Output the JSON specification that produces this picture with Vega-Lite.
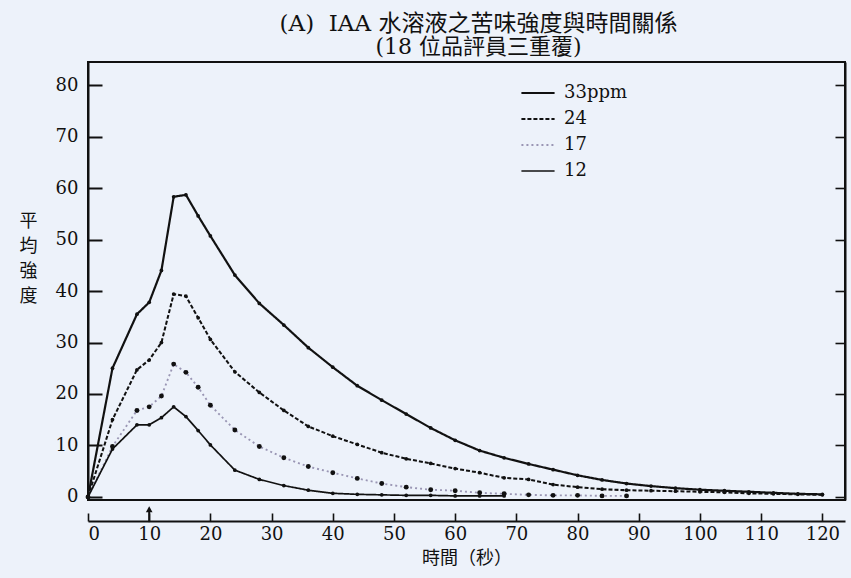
{
  "$schema": "https://vega.github.io/schema/vega-lite/v6.json",
  "width": 757,
  "height": 438,
  "autosize": {"type": "none"},
  "padding": {"left": 88, "top": 62, "right": 6, "bottom": 78},
  "background": "#edf2fa",
  "config": {
    "view": {"stroke": "#111111", "strokeWidth": 2},
    "axis": {"grid": false, "domainColor": "#111111", "tickColor": "#111111", "labelColor": "#111111", "titleColor": "#111111", "domainWidth": 2, "tickWidth": 1.6},
    "legend": {"symbolType": "stroke", "symbolSize": 1100, "symbolStrokeWidth": 2, "labelFont": "DejaVu Serif", "labelFontSize": 18, "labelColor": "#111111", "labelOffset": 8, "rowPadding": 8, "clipHeight": 18}
  },
  "title": {
    "text": "(A)\u00a0\u00a0IAA 水溶液之苦味強度與時間關係",
    "subtitle": "(18 位品評員三重覆)",
    "anchor": "middle",
    "dx": 12,
    "font": "'DejaVu Serif', 'Noto Sans CJK TC'",
    "fontSize": 23,
    "fontWeight": "normal",
    "color": "#111111",
    "subtitleFont": "'DejaVu Serif', 'Noto Sans CJK TC'",
    "subtitleFontSize": 22,
    "subtitleColor": "#111111",
    "subtitlePadding": 1,
    "offset": 4
  },
  "datasets": {
    "curves": [
      {"t": 0, "v": 0, "s": "33ppm"}, {"t": 4, "v": 25, "s": "33ppm"}, {"t": 8, "v": 35.5, "s": "33ppm"}, {"t": 10, "v": 37.8, "s": "33ppm"}, {"t": 12, "v": 44, "s": "33ppm"}, {"t": 14, "v": 58.3, "s": "33ppm"}, {"t": 16, "v": 58.7, "s": "33ppm"}, {"t": 18, "v": 54.6, "s": "33ppm"}, {"t": 20, "v": 50.7, "s": "33ppm"}, {"t": 24, "v": 43.1, "s": "33ppm"}, {"t": 28, "v": 37.6, "s": "33ppm"}, {"t": 32, "v": 33.4, "s": "33ppm"}, {"t": 36, "v": 29, "s": "33ppm"}, {"t": 40, "v": 25.2, "s": "33ppm"}, {"t": 44, "v": 21.6, "s": "33ppm"}, {"t": 48, "v": 18.8, "s": "33ppm"}, {"t": 52, "v": 16.1, "s": "33ppm"}, {"t": 56, "v": 13.4, "s": "33ppm"}, {"t": 60, "v": 11, "s": "33ppm"}, {"t": 64, "v": 9, "s": "33ppm"}, {"t": 68, "v": 7.6, "s": "33ppm"}, {"t": 72, "v": 6.4, "s": "33ppm"}, {"t": 76, "v": 5.3, "s": "33ppm"}, {"t": 80, "v": 4.2, "s": "33ppm"}, {"t": 84, "v": 3.3, "s": "33ppm"}, {"t": 88, "v": 2.6, "s": "33ppm"}, {"t": 92, "v": 2.1, "s": "33ppm"}, {"t": 96, "v": 1.7, "s": "33ppm"}, {"t": 100, "v": 1.4, "s": "33ppm"}, {"t": 104, "v": 1.2, "s": "33ppm"}, {"t": 108, "v": 1, "s": "33ppm"}, {"t": 112, "v": 0.8, "s": "33ppm"}, {"t": 116, "v": 0.6, "s": "33ppm"}, {"t": 120, "v": 0.5, "s": "33ppm"},
      {"t": 0, "v": 0, "s": "24"}, {"t": 4, "v": 15, "s": "24"}, {"t": 8, "v": 24.7, "s": "24"}, {"t": 10, "v": 26.6, "s": "24"}, {"t": 12, "v": 30, "s": "24"}, {"t": 14, "v": 39.4, "s": "24"}, {"t": 16, "v": 39, "s": "24"}, {"t": 18, "v": 34.8, "s": "24"}, {"t": 20, "v": 30.6, "s": "24"}, {"t": 24, "v": 24.3, "s": "24"}, {"t": 28, "v": 20.3, "s": "24"}, {"t": 32, "v": 16.8, "s": "24"}, {"t": 36, "v": 13.7, "s": "24"}, {"t": 40, "v": 11.8, "s": "24"}, {"t": 44, "v": 10.2, "s": "24"}, {"t": 48, "v": 8.6, "s": "24"}, {"t": 52, "v": 7.4, "s": "24"}, {"t": 56, "v": 6.5, "s": "24"}, {"t": 60, "v": 5.5, "s": "24"}, {"t": 64, "v": 4.7, "s": "24"}, {"t": 68, "v": 3.7, "s": "24"}, {"t": 72, "v": 3.4, "s": "24"}, {"t": 76, "v": 2.4, "s": "24"}, {"t": 80, "v": 1.9, "s": "24"}, {"t": 84, "v": 1.5, "s": "24"}, {"t": 88, "v": 1.3, "s": "24"}, {"t": 92, "v": 1.2, "s": "24"}, {"t": 96, "v": 1.1, "s": "24"}, {"t": 100, "v": 1, "s": "24"}, {"t": 104, "v": 0.9, "s": "24"}, {"t": 108, "v": 0.7, "s": "24"}, {"t": 112, "v": 0.6, "s": "24"}, {"t": 116, "v": 0.5, "s": "24"}, {"t": 120, "v": 0.4, "s": "24"},
      {"t": 0, "v": 0, "s": "17"}, {"t": 4, "v": 9.8, "s": "17"}, {"t": 8, "v": 16.8, "s": "17"}, {"t": 10, "v": 17.5, "s": "17"}, {"t": 12, "v": 19.6, "s": "17"}, {"t": 14, "v": 25.8, "s": "17"}, {"t": 16, "v": 24.2, "s": "17"}, {"t": 18, "v": 21.3, "s": "17"}, {"t": 20, "v": 17.8, "s": "17"}, {"t": 24, "v": 13, "s": "17"}, {"t": 28, "v": 9.8, "s": "17"}, {"t": 32, "v": 7.6, "s": "17"}, {"t": 36, "v": 5.9, "s": "17"}, {"t": 40, "v": 4.7, "s": "17"}, {"t": 44, "v": 3.6, "s": "17"}, {"t": 48, "v": 2.6, "s": "17"}, {"t": 52, "v": 1.9, "s": "17"}, {"t": 56, "v": 1.4, "s": "17"}, {"t": 60, "v": 1.2, "s": "17"}, {"t": 64, "v": 0.8, "s": "17"}, {"t": 68, "v": 0.6, "s": "17"}, {"t": 72, "v": 0.4, "s": "17"}, {"t": 76, "v": 0.3, "s": "17"}, {"t": 80, "v": 0.3, "s": "17"}, {"t": 84, "v": 0.2, "s": "17"}, {"t": 88, "v": 0.2, "s": "17"},
      {"t": 0, "v": 0, "s": "12"}, {"t": 4, "v": 9.3, "s": "12"}, {"t": 8, "v": 14, "s": "12"}, {"t": 10, "v": 14, "s": "12"}, {"t": 12, "v": 15.4, "s": "12"}, {"t": 14, "v": 17.5, "s": "12"}, {"t": 16, "v": 15.6, "s": "12"}, {"t": 18, "v": 12.9, "s": "12"}, {"t": 20, "v": 10.1, "s": "12"}, {"t": 24, "v": 5.2, "s": "12"}, {"t": 28, "v": 3.4, "s": "12"}, {"t": 32, "v": 2.2, "s": "12"}, {"t": 36, "v": 1.3, "s": "12"}, {"t": 40, "v": 0.7, "s": "12"}, {"t": 44, "v": 0.5, "s": "12"}, {"t": 48, "v": 0.4, "s": "12"}, {"t": 52, "v": 0.3, "s": "12"}, {"t": 56, "v": 0.3, "s": "12"}, {"t": 60, "v": 0.2, "s": "12"}, {"t": 64, "v": 0.2, "s": "12"}, {"t": 68, "v": 0.2, "s": "12"}
    ],
    "arrow": [{"t": 10, "lo": -4.9, "hi": -2.4}]
  },
  "layer": [
    {
      "data": {"name": "curves"},
      "mark": {"type": "line", "clip": false},
      "encoding": {
        "x": {"field": "t", "type": "quantitative",
          "scale": {"domain": [0, 123.7], "nice": false, "zero": false},
          "axis": {"orient": "bottom", "offset": 21, "values": [0, 10, 20, 30, 40, 50, 60, 70, 80, 90, 100, 110, 120], "tickSize": -8, "labelPadding": 12, "labelFont": "DejaVu Serif", "labelFontSize": 18, "title": "時間（秒）", "titleFont": "Noto Sans CJK TC", "titleFontSize": 18, "titleFontWeight": "normal", "titlePadding": 6}
        },
        "y": {"field": "v", "type": "quantitative",
          "scale": {"domain": [-0.6, 84.5], "nice": false, "zero": false},
          "axis": {"orient": "left", "values": [0, 10, 20, 30, 40, 50, 60, 70, 80], "tickSize": -14, "tickWidth": 2, "labelPadding": 24, "labelFont": "DejaVu Serif", "labelFontSize": 18, "title": ["平", "均", "強", "度"], "titleFont": "Noto Sans CJK TC", "titleFontSize": 18, "titleFontWeight": "normal", "titleAngle": 0, "titleLineHeight": 25, "titleX": -60, "titleY": 150, "titleAlign": "center", "titleBaseline": "top"}
        },
        "detail": {"field": "s"},
        "color": {"field": "s", "type": "nominal",
          "scale": {"domain": ["33ppm", "24", "17", "12"], "range": ["#111111", "#111111", "#9a96b4", "#111111"]},
          "legend": {"title": null, "orient": "none", "legendX": 432, "legendY": 22}
        },
        "strokeDash": {"field": "s", "type": "nominal",
          "scale": {"domain": ["33ppm", "24", "17", "12"], "range": [[1, 0], [4, 2], [2, 3], [1, 0]]},
          "legend": {"title": null, "orient": "none", "legendX": 432, "legendY": 22}
        },
        "strokeWidth": {"field": "s", "type": "nominal",
          "scale": {"domain": ["33ppm", "24", "17", "12"], "range": [2.2, 1.7, 1, 2.6]},
          "legend": null
        }
      }
    },
    {
      "data": {"name": "curves"},
      "transform": [{"filter": "datum.s !== '17'"}],
      "mark": {"type": "point", "filled": true, "opacity": 1, "color": "#111111", "size": 14, "clip": false},
      "encoding": {
        "x": {"field": "t", "type": "quantitative"},
        "y": {"field": "v", "type": "quantitative",
          "axis": {"orient": "right", "values": [0, 10, 20, 30, 40, 50, 60, 70, 80], "tickSize": -10, "tickWidth": 1.6, "labels": false, "title": null}
        }
      }
    },
    {
      "data": {"name": "curves"},
      "transform": [{"filter": "datum.s === '17'"}],
      "mark": {"type": "point", "filled": true, "opacity": 1, "color": "#111111", "size": 24, "clip": false},
      "encoding": {
        "x": {"field": "t", "type": "quantitative"},
        "y": {"field": "v", "type": "quantitative", "axis": null}
      }
    },
    {
      "data": {"name": "arrow"},
      "mark": {"type": "rule", "color": "#111111", "strokeWidth": 2, "clip": false},
      "encoding": {
        "x": {"field": "t", "type": "quantitative"},
        "y": {"field": "lo", "type": "quantitative", "axis": null},
        "y2": {"field": "hi"}
      }
    },
    {
      "data": {"name": "arrow"},
      "mark": {"type": "point", "shape": "triangle-up", "filled": true, "color": "#111111", "size": 45, "opacity": 1, "clip": false},
      "encoding": {
        "x": {"field": "t", "type": "quantitative"},
        "y": {"field": "hi", "type": "quantitative", "axis": null}
      }
    }
  ],
  "resolve": {"axis": {"y": "independent"}}
}
